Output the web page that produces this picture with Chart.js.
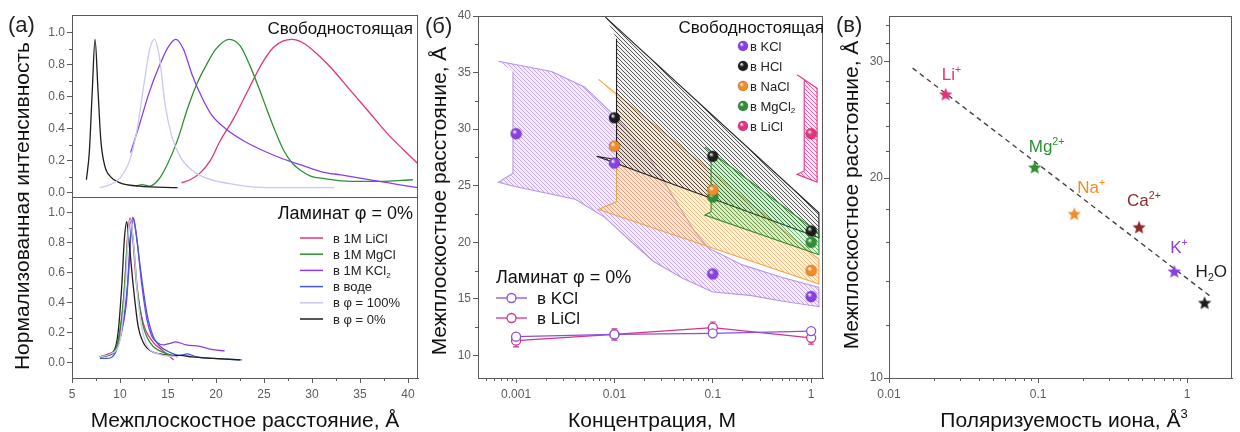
<!DOCTYPE html>
<html>
<head>
<meta charset="utf-8">
<script src="https://cdn.jsdelivr.net/npm/chart.js@4.4.1/dist/chart.umd.min.js"></script>
<style>
  html, body { margin: 0; padding: 0; background: #fff; }
  #wrap { position: relative; width: 1240px; height: 432px; overflow: hidden; background: #fff; }
  .panel { position: absolute; top: 0; height: 432px; }
  canvas { display: block; }
</style>
</head>
<body>
<div id="wrap">
  <div class="panel" style="left:0;width:420px"><canvas id="cA" width="420" height="432"></canvas></div>
  <div class="panel" style="left:420px;width:410px"><canvas id="cB" width="410" height="432"></canvas></div>
  <div class="panel" style="left:830px;width:410px"><canvas id="cC" width="410" height="432"></canvas></div>
</div>
<script>
// ===================== DATA =====================

// ---- Panel (a): normalized intensity vs interlayer spacing ----
const aXTicks = [5, 10, 15, 20, 25, 30, 35, 40];
const aXTickLabels = ['5', '10', '15', '20', '25', '30', '35', '40'];
const aYTicks = [0, 0.2, 0.4, 0.6, 0.8, 1.0];
const aYTickLabels = ['0.0', '0.2', '0.4', '0.6', '0.8', '1.0'];

// free-standing membranes (upper plot)
const freeZeroX = [6.5, 6.8, 7.1, 7.4, 7.7, 8.0, 8.4, 9.0, 10, 12, 16];
const freeZeroY = [0.08, 0.25, 0.62, 0.96, 0.65, 0.33, 0.17, 0.10, 0.06, 0.04, 0.03];
const freeFullX = [7.9, 9.0, 10.0, 11.0, 11.8, 12.5, 13.1, 13.6, 14.1, 14.7, 15.4, 16.3, 17.5, 19, 22, 26, 32.3];
const freeFullY = [0.03, 0.05, 0.09, 0.2, 0.4, 0.68, 0.9, 0.96, 0.85, 0.55, 0.35, 0.22, 0.14, 0.09, 0.05, 0.03, 0.03];
const freeKClX = [11.1, 12, 13, 14, 15, 15.8, 16.6, 17.5, 18.5, 19.5, 21, 23, 25, 27, 29, 31, 33, 35, 37, 39, 41];
const freeKClY = [0.25, 0.42, 0.62, 0.78, 0.91, 0.96, 0.9, 0.74, 0.6, 0.49, 0.40, 0.32, 0.26, 0.21, 0.17, 0.13, 0.11, 0.09, 0.07, 0.05, 0.03];
const freeMgClX = [11.7, 12.3, 13.1, 14, 14.8, 16, 17, 18, 19, 20, 21.4, 22.5, 23.5, 24.5, 25.3, 26.2, 27, 28, 28.8, 30, 31, 34, 37, 40.5];
const freeMgClY = [0.04, 0.05, 0.04, 0.08, 0.16, 0.33, 0.52, 0.68, 0.8, 0.9, 0.96, 0.92, 0.8, 0.65, 0.52, 0.38, 0.27, 0.18, 0.14, 0.1, 0.09, 0.07, 0.07, 0.08];
const freeLiClX = [16.4, 17.3, 18.3, 19.4, 20.4, 21.8, 23, 24, 25, 26, 27, 27.9, 29, 30.5, 32, 34, 36, 38, 39.5, 41.2];
const freeLiClY = [0.06, 0.08, 0.12, 0.2, 0.32, 0.46, 0.6, 0.72, 0.83, 0.91, 0.95, 0.96, 0.94, 0.87, 0.78, 0.64, 0.5, 0.36, 0.27, 0.17];

// laminates φ = 0% (lower plot)
const lamLiClX = [7.9, 8.8, 9.65, 10.2, 10.5, 10.8, 11.04, 11.3, 11.7, 12.4, 13.3, 14.5, 15.6];
const lamLiClY = [0.04, 0.06, 0.11, 0.3, 0.53, 0.85, 0.965, 0.85, 0.53, 0.27, 0.15, 0.08, 0.02];
const lamMgClX = [7.9, 9.0, 9.8, 10.4, 10.8, 11.1, 11.4, 11.8, 12.4, 13.2, 14.5, 16];
const lamMgClY = [0.04, 0.06, 0.15, 0.45, 0.82, 0.94, 0.8, 0.5, 0.25, 0.13, 0.07, 0.04];
const lamKClX = [7.9, 8.8, 9.7, 10.3, 10.7, 11.0, 11.4, 11.8, 12.25, 12.8, 13.3, 13.8, 14.5, 15.2, 15.8, 16.9, 18.3, 19.5, 20.9];
const lamKClY = [0.04, 0.05, 0.1, 0.25, 0.42, 0.75, 0.965, 0.8, 0.53, 0.29, 0.18, 0.14, 0.12, 0.13, 0.14, 0.12, 0.11, 0.09, 0.08];
const lamWaterX = [7.9, 8.6, 9.6, 10.4, 10.9, 11.3, 11.7, 12.1, 12.8, 13.5, 14.2, 14.9, 16.25, 17, 18, 19.7, 22.7];
const lamWaterY = [0.03, 0.03, 0.08, 0.3, 0.6, 0.97, 0.85, 0.64, 0.33, 0.17, 0.11, 0.08, 0.05, 0.06, 0.04, 0.03, 0.02];
const lamFullX = [7.9, 9.0, 10.0, 10.6, 10.9, 11.1, 11.4, 11.9, 12.6, 14, 16];
const lamFullY = [0.04, 0.06, 0.15, 0.55, 0.9, 0.95, 0.8, 0.4, 0.15, 0.06, 0.04];
const lamZeroX = [7.9, 8.6, 9.3, 9.8, 10.2, 10.45, 10.7, 10.95, 11.4, 11.9, 12.4, 12.8, 13.5, 14.2, 15.3, 16.3, 17.5, 19.7, 22.5];
const lamZeroY = [0.04, 0.05, 0.07, 0.2, 0.53, 0.82, 0.94, 0.8, 0.5, 0.24, 0.14, 0.1, 0.07, 0.06, 0.05, 0.05, 0.04, 0.03, 0.02];

// ---- Panel (б): interlayer spacing vs concentration ----
const concTicks = [0.001, 0.01, 0.1, 1];
const concTickLabels = ['0.001', '0.01', '0.1', '1'];
const bYTicks = [10, 15, 20, 25, 30, 35, 40];
const bYTickLabels = ['10', '15', '20', '25', '30', '35', '40'];

// free-standing membranes
const kclFreeX = [0.001, 0.01, 0.1, 1];
const kclFreeY = [29.6, 27.0, 17.2, 15.2];
const hclFreeX = [0.01, 0.1, 1];
const hclFreeY = [31.0, 27.6, 21.0];
const naclFreeX = [0.01, 0.1, 1];
const naclFreeY = [28.5, 24.6, 17.5];
const mgclFreeX = [0.1, 1];
const mgclFreeY = [24.0, 20.0];
const liclFreeX = [1];
const liclFreeY = [29.6];

// spread bands of free-standing membranes (closed outlines)
const kclBandX = [0.00066, 0.0023, 0.005, 0.01, 0.02, 0.03, 0.045, 0.065, 0.09, 0.2, 0.5, 1.2,
                  1.2, 0.5, 0.24, 0.1, 0.05, 0.025, 0.015, 0.008, 0.004, 0.001, 0.00066, 0.00093, 0.00093];
const kclBandY = [36.0, 35.1, 33.7, 31.2, 28.2, 25.8, 23.2, 21.0, 19.5, 18.0, 16.9, 16.0,
                  14.3, 14.8, 15.3, 15.6, 16.8, 18.3, 20.0, 22.2, 23.8, 24.9, 25.3, 26.1, 35.1];
const hclBandX = [0.0081, 1.2, 1.2, 0.0066, 0.0105, 0.0105];
const hclBandY = [39.9, 22.6, 20.4, 27.6, 27.3, 38.0];
const naclBandX = [0.0069, 1.2, 1.2, 0.0069, 0.0105, 0.0105];
const naclBandY = [34.4, 18.5, 16.3, 22.9, 23.6, 32.9];
const mgclBandX = [0.083, 1.2, 1.2, 0.083, 0.096, 0.096];
const mgclBandY = [28.4, 20.8, 18.9, 22.4, 22.7, 27.6];
const liclBandX = [0.72, 1.15, 1.15, 0.72, 0.85, 0.85];
const liclBandY = [34.8, 33.6, 25.3, 26.0, 26.3, 34.3];

// laminates φ = 0%
const lamConc = [0.001, 0.01, 0.1, 1];
const lamKClSpacing = [11.65, 11.85, 11.95, 12.15];
const lamKClErr = [0.2, 0.2, 0.15, 0.15];
const lamLiClSpacing = [11.3, 11.85, 12.45, 11.55];
const lamLiClErr = [0.55, 0.5, 0.5, 0.55];

// ---- Panel (в): interlayer spacing vs ion polarizability ----
const polTicks = [0.01, 0.1, 1];
const polTickLabels = ['0.01', '0.1', '1'];
const cYTicks = [10, 20, 30];
const cYTickLabels = ['10', '20', '30'];
const ionLabels = [
  [['Li', ''], ['+', 'sup']],
  [['Mg', ''], ['2+', 'sup']],
  [['Na', ''], ['+', 'sup']],
  [['Ca', ''], ['2+', 'sup']],
  [['K', ''], ['+', 'sup']],
  [['H', ''], ['2', 'sub'], ['O', '']]
];
const ionPolarizability = [0.024, 0.095, 0.175, 0.476, 0.82, 1.31];
const ionSpacing = [26.8, 20.8, 17.7, 16.9, 14.5, 13.0];
const fitX = [0.0144, 1.48];
const fitY = [29.3, 13.2];

// ===================== STYLE =====================
const FONT = "'Liberation Sans', Arial, Helvetica, sans-serif";
const AX = '#5a5a5a';
const TXT = '#111';
const C = {
  pink: '#e2337f', green: '#2f8f33', purple: '#8a3fe6', blue: '#4559cf',
  lav: '#c9c8ee', black: '#1e1e1e', orange: '#f28c28', brown: '#8e2a2a',
  lamKCl: '#8c4fdc', lamLiCl: '#d2338f'
};
const ionColors = [C.pink, C.green, C.orange, C.brown, C.purple, C.black];
// label placement relative to each star (px): [dx, dy of baseline]
const ionLabelOffset = [[-4, -14], [-6, -15], [3, -20], [-12, -21], [-4, -18], [-9, -25]];

Chart.defaults.font.family = FONT;
Chart.defaults.color = '#555';
Chart.defaults.animation = false;

const pts = (xs, ys) => xs.map((x, i) => ({ x: x, y: ys[i] }));

function richText(ctx, x, y, parts, size, color, align) {
  ctx.save();
  ctx.fillStyle = color;
  ctx.textBaseline = 'alphabetic';
  ctx.textAlign = 'left';
  const fontOf = k => (k ? size * 0.62 : size) + 'px ' + FONT;
  const widths = parts.map(([t, k]) => { ctx.font = fontOf(k); return ctx.measureText(t).width; });
  const total = widths.reduce((a, b) => a + b, 0);
  let cx = align === 'right' ? x - total : align === 'center' ? x - total / 2 : x;
  parts.forEach(([t, k], i) => {
    ctx.font = fontOf(k);
    const dy = k === 'sup' ? -size * 0.42 : k === 'sub' ? size * 0.22 : 0;
    ctx.fillText(t, cx, y + dy);
    cx += widths[i];
  });
  ctx.restore();
}

function vText(ctx, x, y, text, size, color) {
  ctx.save();
  ctx.translate(x, y);
  ctx.rotate(-Math.PI / 2);
  ctx.font = size + 'px ' + FONT;
  ctx.fillStyle = color;
  ctx.textAlign = 'center';
  ctx.textBaseline = 'middle';
  ctx.fillText(text, 0, 0);
  ctx.restore();
}

function hText(ctx, x, y, text, size, color, align) {
  ctx.save();
  ctx.font = size + 'px ' + FONT;
  ctx.fillStyle = color;
  ctx.textAlign = align || 'left';
  ctx.textBaseline = 'alphabetic';
  ctx.fillText(text, x, y);
  ctx.restore();
}

function frame(chart) {
  const a = chart.chartArea, ctx = chart.ctx;
  ctx.save();
  ctx.strokeStyle = AX;
  ctx.lineWidth = 1;
  ctx.strokeRect(Math.round(a.left) + 0.5, Math.round(a.top) + 0.5, Math.round(a.right - a.left) - 1, Math.round(a.bottom - a.top));
  ctx.restore();
}

function minorTicks(chart, id, values, len) {
  const s = chart.scales[id], ctx = chart.ctx;
  ctx.save();
  ctx.strokeStyle = AX;
  ctx.lineWidth = 1;
  ctx.beginPath();
  values.forEach(v => {
    if (v <= s.min || v >= s.max) return;
    const p = Math.round(s.getPixelForValue(v)) + 0.5;
    if (s.isHorizontal()) { ctx.moveTo(p, s.top); ctx.lineTo(p, s.top + len); }
    else { ctx.moveTo(s.right, p); ctx.lineTo(s.right - len, p); }
  });
  ctx.stroke();
  ctx.restore();
}

function logMinors(lo, hi) {
  const out = [];
  for (let e = Math.floor(Math.log10(lo)); e <= Math.ceil(Math.log10(hi)); e++) {
    for (let m = 2; m <= 9; m++) out.push(m * Math.pow(10, e));
  }
  return out;
}

function axis(opts) {
  const ticksList = opts.ticks, labels = opts.labels;
  const o = {
    type: opts.type || 'linear',
    position: opts.position,
    min: opts.min, max: opts.max,
    grid: { display: true, drawOnChartArea: false, drawTicks: true, tickLength: 5, tickColor: AX, tickWidth: 1 },
    border: { display: true, color: AX, width: 1 },
    ticks: {
      color: '#5c5c5c', font: { size: 12 }, padding: opts.padding == null ? 2 : opts.padding,
      maxRotation: 0, autoSkip: false,
      callback: (v, i) => labels[i]
    },
    afterBuildTicks: s => { s.ticks = ticksList.map(v => ({ value: v })); },
    afterFit: s => { if (opts.position === 'bottom') s.height = opts.size; else s.width = opts.size; }
  };
  if (opts.stack) { o.stack = opts.stack; o.stackWeight = 1; o.weight = opts.weight; }
  return o;
}

function sphereImg(color, r) {
  const c = document.createElement('canvas');
  const s = r * 2 + 2;
  c.width = c.height = s;
  const g = c.getContext('2d');
  const grad = g.createRadialGradient(s / 2 - r * 0.35, s / 2 - r * 0.4, r * 0.05, s / 2, s / 2, r);
  grad.addColorStop(0, '#ffffff');
  grad.addColorStop(0.4, color);
  grad.addColorStop(1, color);
  g.fillStyle = grad;
  g.beginPath(); g.arc(s / 2, s / 2, r, 0, Math.PI * 2); g.fill();
  g.strokeStyle = 'rgba(0,0,0,0.25)'; g.lineWidth = 0.8; g.stroke();
  return c;
}

function starImg(color, R) {
  const c = document.createElement('canvas');
  const s = Math.ceil(R * 2 + 2);
  c.width = c.height = s;
  const g = c.getContext('2d');
  g.fillStyle = color;
  g.beginPath();
  for (let i = 0; i < 10; i++) {
    const rr = i % 2 === 0 ? R : R * 0.45;
    const ang = -Math.PI / 2 + i * Math.PI / 5;
    const px = s / 2 + rr * Math.cos(ang), py = s / 2 + 1 + rr * Math.sin(ang);
    if (i === 0) g.moveTo(px, py); else g.lineTo(px, py);
  }
  g.closePath(); g.fill();
  return c;
}

function hatch(ctx, line, bg, p, lw) {
  const c = document.createElement('canvas');
  c.width = c.height = p;
  const g = c.getContext('2d');
  g.fillStyle = bg; g.fillRect(0, 0, p, p);
  g.strokeStyle = line; g.lineWidth = lw;
  g.beginPath();
  g.moveTo(0, 0); g.lineTo(p, p);
  g.moveTo(-1, p - 1); g.lineTo(1, p + 1);
  g.moveTo(p - 1, -1); g.lineTo(p + 1, 1);
  g.stroke();
  return ctx.createPattern(c, 'repeat');
}

const baseOptions = () => ({
  responsive: false,
  devicePixelRatio: 1,
  animation: false,
  events: [],
  plugins: { legend: { display: false }, tooltip: { enabled: false } }
});

// ===================== PANEL (a) =====================
function curve(xs, ys, color, yAxisID, w) {
  return {
    data: pts(xs, ys), yAxisID: yAxisID, showLine: true,
    borderColor: color, borderWidth: w || 1.3, pointRadius: 0,
    cubicInterpolationMode: 'monotone', fill: false
  };
}

const decorA = {
  id: 'decorA',
  afterDraw(chart) {
    const ctx = chart.ctx;
    minorTicks(chart, 'x', [7.5, 12.5, 17.5, 22.5, 27.5, 32.5, 37.5], 3);
    minorTicks(chart, 'yTop', [0.1, 0.3, 0.5, 0.7, 0.9], 3);
    minorTicks(chart, 'yBot', [0.1, 0.3, 0.5, 0.7, 0.9], 3);
    frame(chart);
    // separator between the two plots
    const sep = Math.round(chart.scales.yBot.top) + 0.5;
    ctx.save(); ctx.strokeStyle = AX; ctx.lineWidth = 1;
    ctx.beginPath(); ctx.moveTo(chart.chartArea.left, sep); ctx.lineTo(chart.chartArea.right, sep); ctx.stroke();
    ctx.restore();

    hText(ctx, 8, 32, '(a)', 22, '#222');
    vText(ctx, 23, 206, 'Нормализованная интенсивность', 21, TXT);
    hText(ctx, 245, 427, 'Межплоскостное расстояние, Å', 21, TXT, 'center');
    hText(ctx, 413, 34, 'Свободностоящая', 17, TXT, 'right');
    hText(ctx, 413, 219, 'Ламинат φ = 0%', 18, TXT, 'right');

    const rows = [
      [C.pink, [['в 1M LiCl', '']]],
      [C.green, [['в 1M MgCl', '']]],
      [C.purple, [['в 1M KCl', ''], ['2', 'sub']]],
      [C.blue, [['в воде', '']]],
      [C.lav, [['в φ = 100%', '']]],
      [C.black, [['в φ = 0%', '']]]
    ];
    rows.forEach(([col, parts], i) => {
      const y = 238 + i * 16.2;
      ctx.save(); ctx.strokeStyle = col; ctx.lineWidth = 1.5;
      ctx.beginPath(); ctx.moveTo(300, y); ctx.lineTo(323, y); ctx.stroke(); ctx.restore();
      richText(ctx, 333, y + 4.5, parts, 13, '#222', 'left');
    });
  }
};

new Chart(document.getElementById('cA'), {
  type: 'scatter',
  data: {
    datasets: [
      curve(freeFullX, freeFullY, C.lav, 'yTop'),
      curve(freeZeroX, freeZeroY, C.black, 'yTop'),
      curve(freeKClX, freeKClY, C.purple, 'yTop'),
      curve(freeMgClX, freeMgClY, C.green, 'yTop'),
      curve(freeLiClX, freeLiClY, C.pink, 'yTop'),
      curve(lamFullX, lamFullY, C.lav, 'yBot'),
      curve(lamMgClX, lamMgClY, C.green, 'yBot'),
      curve(lamZeroX, lamZeroY, C.black, 'yBot'),
      curve(lamLiClX, lamLiClY, C.pink, 'yBot'),
      curve(lamWaterX, lamWaterY, C.blue, 'yBot'),
      curve(lamKClX, lamKClY, C.purple, 'yBot')
    ]
  },
  options: Object.assign(baseOptions(), {
    layout: { padding: { left: 7, right: 2, top: 15, bottom: 0 } },
    scales: {
      x: axis({ position: 'bottom', min: 5, max: 41.04, ticks: aXTicks, labels: aXTickLabels, size: 54, padding: 4 }),
      yTop: axis({ position: 'left', min: -0.025, max: 1.1125, ticks: aYTicks, labels: aYTickLabels, size: 65, stack: 'a', weight: 1 }),
      yBot: axis({ position: 'left', min: -0.1, max: 1.107, ticks: aYTicks, labels: aYTickLabels, size: 65, stack: 'a', weight: 0 })
    }
  }),
  plugins: [decorA]
});

// ===================== PANEL (б) =====================
const ctxB = document.getElementById('cB').getContext('2d');
function band(xs, ys, border, line, bg, order) {
  return {
    data: pts(xs, ys), showLine: true, tension: 0,
    borderColor: border, borderWidth: 1.1, pointRadius: 0,
    backgroundColor: hatch(ctxB, line, bg, 4, 1), fill: 'shape', order: order
  };
}
function freeDots(xs, ys, color) {
  return {
    data: pts(xs, ys), showLine: false, pointStyle: sphereImg(color, 5.5),
    pointRadius: 6, order: 1
  };
}
function lamLine(xs, ys, err, color) {
  return {
    data: pts(xs, ys), errors: err, showLine: true, tension: 0,
    borderColor: color, borderWidth: 1.3,
    pointStyle: 'circle', pointRadius: 4.5, pointBorderWidth: 1.3,
    pointBorderColor: color, pointBackgroundColor: '#fff', order: 2
  };
}

const errorBars = {
  id: 'errorBars',
  beforeDatasetsDraw(chart) {
    const ctx = chart.ctx, xs = chart.scales.x, ys = chart.scales.y;
    chart.data.datasets.forEach(ds => {
      if (!ds.errors) return;
      ctx.save(); ctx.strokeStyle = ds.borderColor; ctx.lineWidth = 1.2;
      ds.data.forEach((p, i) => {
        const x = xs.getPixelForValue(p.x);
        const y1 = ys.getPixelForValue(p.y + ds.errors[i]);
        const y2 = ys.getPixelForValue(p.y - ds.errors[i]);
        ctx.beginPath();
        ctx.moveTo(x, y1); ctx.lineTo(x, y2);
        ctx.moveTo(x - 3, y1); ctx.lineTo(x + 3, y1);
        ctx.moveTo(x - 3, y2); ctx.lineTo(x + 3, y2);
        ctx.stroke();
      });
      ctx.restore();
    });
  }
};

const decorB = {
  id: 'decorB',
  afterDraw(chart) {
    const ctx = chart.ctx;
    minorTicks(chart, 'x', logMinors(0.0004, 1.3), 3);
    minorTicks(chart, 'y', [12.5, 17.5, 22.5, 27.5, 32.5, 37.5], 3);
    frame(chart);
    hText(ctx, 5, 33, '(б)', 22, '#222');
    vText(ctx, 20, 201, 'Межплоскостное расстояние, Å', 21, TXT);
    hText(ctx, 232, 427, 'Концентрация, M', 21, TXT, 'center');
    hText(ctx, 404, 33, 'Свободностоящая', 17, TXT, 'right');

    const rows = [
      [C.purple, [['в KCl', '']]],
      [C.black, [['в HCl', '']]],
      [C.orange, [['в NaCl', '']]],
      [C.green, [['в MgCl', ''], ['2', 'sub']]],
      [C.pink, [['в LiCl', '']]]
    ];
    rows.forEach(([col, parts], i) => {
      const y = 46 + i * 20;
      ctx.drawImage(sphereImg(col, 5), 323 - 6, y - 6);
      richText(ctx, 330, y + 4.5, parts, 13, '#222', 'left');
    });

    hText(ctx, 76, 283, 'Ламинат φ = 0%', 18, TXT, 'left');
    [[C.lamKCl, 'в KCl', 298], [C.lamLiCl, 'в LiCl', 318]].forEach(([col, t, y]) => {
      ctx.save(); ctx.strokeStyle = col; ctx.lineWidth = 1.3;
      ctx.beginPath(); ctx.moveTo(76, y); ctx.lineTo(107, y); ctx.stroke();
      ctx.fillStyle = '#fff'; ctx.beginPath(); ctx.arc(91.5, y, 4.5, 0, Math.PI * 2); ctx.fill(); ctx.stroke();
      ctx.restore();
      hText(ctx, 117, y + 6, t, 17, TXT, 'left');
    });
  }
};

new Chart(ctxB, {
  type: 'scatter',
  data: {
    datasets: [
      band(kclBandX, kclBandY, '#b896e6', 'rgba(165,125,225,0.6)', 'rgba(195,165,240,0.2)', 9),
      band(naclBandX, naclBandY, '#efa54a', 'rgba(240,155,55,0.6)', 'rgba(248,190,110,0.2)', 8),
      band(hclBandX, hclBandY, '#222222', 'rgba(35,35,35,0.75)', 'rgba(130,130,130,0.1)', 7),
      band(mgclBandX, mgclBandY, '#2f8f33', 'rgba(40,140,45,0.65)', 'rgba(70,170,70,0.15)', 6),
      band(liclBandX, liclBandY, '#e2338a', 'rgba(228,50,135,0.75)', 'rgba(235,80,150,0.1)', 5),
      lamLine(lamConc, lamKClSpacing, lamKClErr, C.lamKCl),
      lamLine(lamConc, lamLiClSpacing, lamLiClErr, C.lamLiCl),
      freeDots(kclFreeX, kclFreeY, C.purple),
      freeDots(hclFreeX, hclFreeY, '#1c1c1c'),
      freeDots(naclFreeX, naclFreeY, C.orange),
      freeDots(mgclFreeX, mgclFreeY, C.green),
      freeDots(liclFreeX, liclFreeY, C.pink)
    ]
  },
  options: Object.assign(baseOptions(), {
    layout: { padding: { left: 4, right: 4, top: 16, bottom: 0 } },
    scales: {
      x: axis({ type: 'logarithmic', position: 'bottom', min: 0.00041, max: 1.32, ticks: concTicks, labels: concTickLabels, size: 54, padding: 4 }),
      y: axis({ position: 'left', min: 8, max: 40, ticks: bYTicks, labels: bYTickLabels, size: 54 })
    }
  }),
  plugins: [errorBars, decorB]
});

// ===================== PANEL (в) =====================
const decorC = {
  id: 'decorC',
  afterDraw(chart) {
    const ctx = chart.ctx, xs = chart.scales.x, ys = chart.scales.y;
    minorTicks(chart, 'x', logMinors(0.01, 2), 3);
    minorTicks(chart, 'y', [12, 14, 16, 18, 22, 24, 26, 28, 32, 34], 3);
    frame(chart);
    hText(ctx, 6, 32, '(в)', 22, '#222');
    vText(ctx, 22, 195, 'Межплоскостное расстояние, Å', 21, TXT);
    richText(ctx, 234, 427, [['Поляризуемость иона, Å', ''], ['3', 'sup']], 21, TXT, 'center');
    ionLabels.forEach((parts, i) => {
      const px = xs.getPixelForValue(ionPolarizability[i]);
      const py = ys.getPixelForValue(ionSpacing[i]);
      const [dx, dy] = ionLabelOffset[i];
      richText(ctx, px + dx, py + dy, parts, 17, ionColors[i], 'left');
    });
  }
};

new Chart(document.getElementById('cC'), {
  type: 'scatter',
  data: {
    datasets: [
      {
        data: pts(fitX, fitY), showLine: true, borderColor: '#444', borderWidth: 1.4,
        borderDash: [5, 4], pointRadius: 0, order: 2
      },
      {
        data: pts(ionPolarizability, ionSpacing), showLine: false,
        pointStyle: ionColors.map(c => starImg(c, 7)), pointRadius: 7, order: 1
      }
    ]
  },
  options: Object.assign(baseOptions(), {
    layout: { padding: { left: 6, right: 1, top: 16, bottom: 0 } },
    scales: {
      x: axis({ type: 'logarithmic', position: 'bottom', min: 0.01, max: 2.0, ticks: polTicks, labels: polTickLabels, size: 54, padding: 4 }),
      y: axis({ type: 'logarithmic', position: 'left', min: 10, max: 35.1, ticks: cYTicks, labels: cYTickLabels, size: 53, padding: 1 })
    }
  }),
  plugins: [decorC]
});
</script>
</body>
</html>
